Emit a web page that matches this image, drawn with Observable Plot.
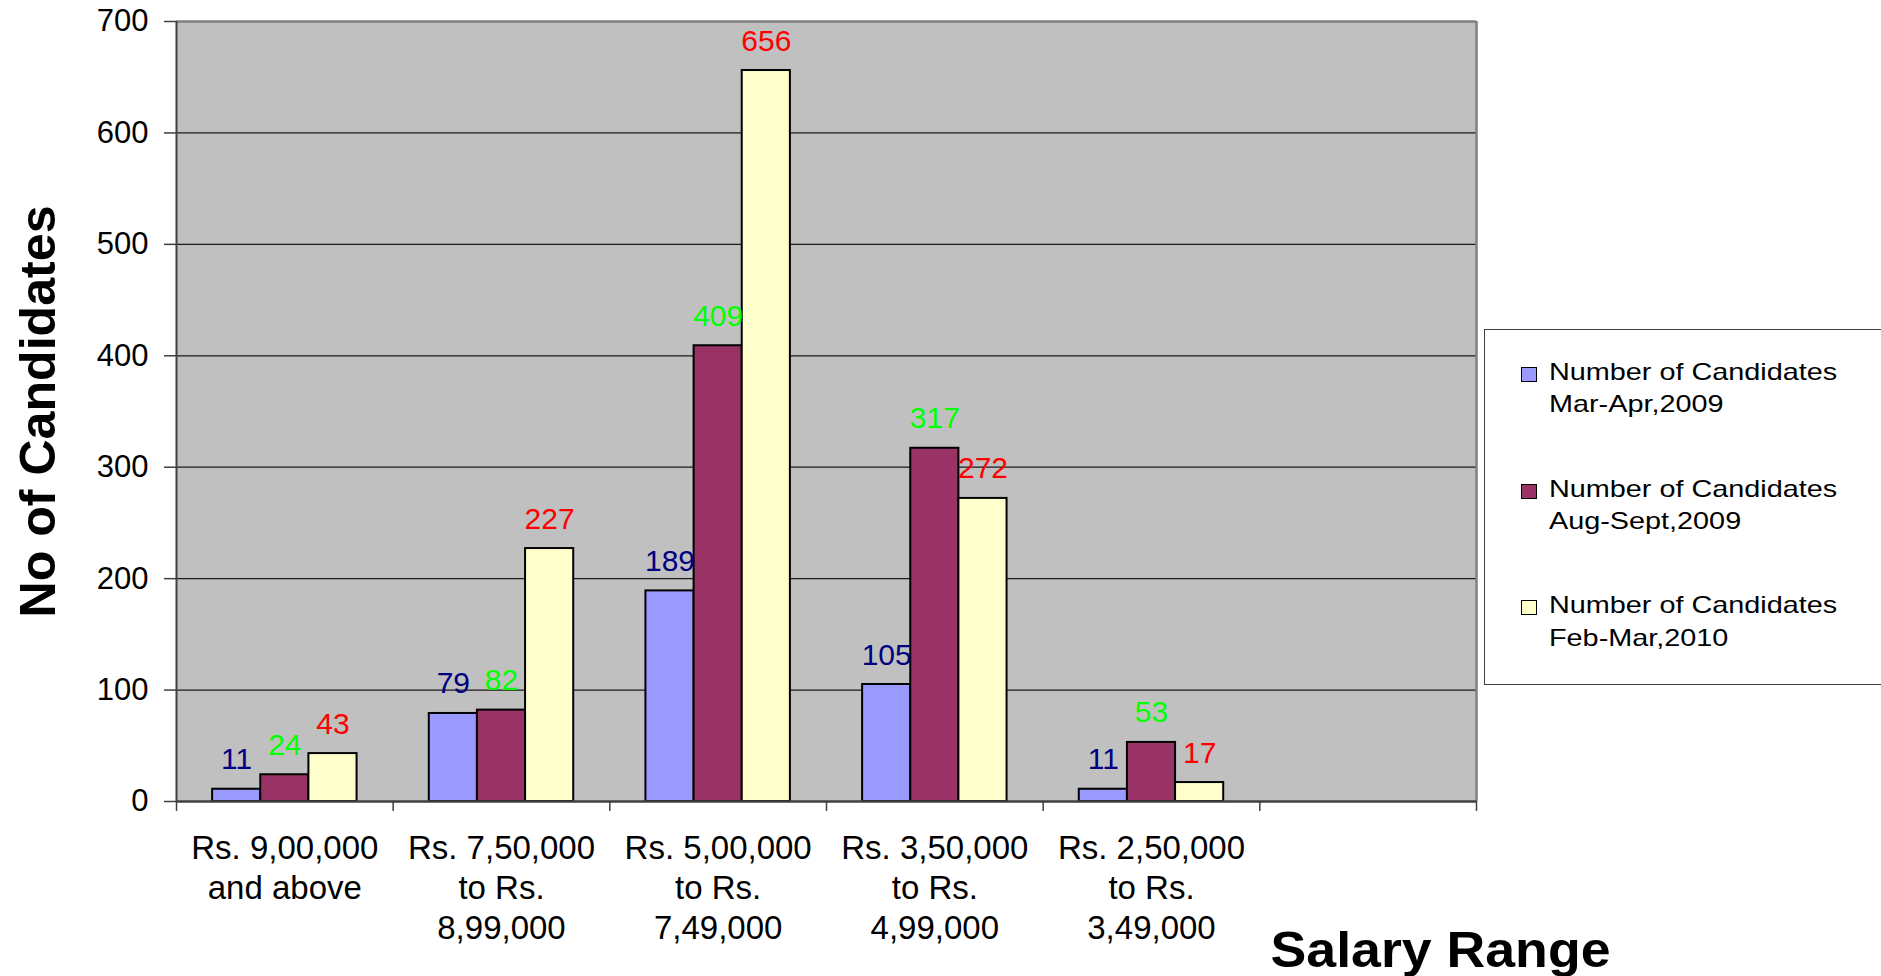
<!DOCTYPE html>
<html>
<head>
<meta charset="utf-8">
<script src="https://cdn.jsdelivr.net/npm/d3@7"></script>
<script src="https://cdn.jsdelivr.net/npm/@observablehq/plot@0.6"></script>
<style>
  html, body { margin: 0; padding: 0; background: #fff; overflow: hidden; }
  #wrap { position: relative; width: 1881px; height: 976px; font-family: "Liberation Sans", Arial, sans-serif; }
  #legend { position: absolute; left: 1484px; top: 329px; width: 420px; height: 356px;
            border: 1.5px solid #404040; box-sizing: border-box; background: #fff; }
  .item { position: absolute; left: 0; width: 400px; }
  .sw { position: absolute; left: 36px; top: 11px; width: 14px; height: 13px; border: 1.5px solid #000; }
  .lbl { position: absolute; left: 64px; top: 0; font-size: 24px; line-height: 32.4px; color: #000;
         transform: scaleX(1.2); transform-origin: 0 0; white-space: nowrap; }
</style>
</head>
<body>
<div id="wrap"><div id="chart"></div><div id="legend"></div></div>
<script>
// ---- data ----
const categories = [
  "Rs. 9,00,000\nand above",
  "Rs. 7,50,000\nto Rs.\n8,99,000",
  "Rs. 5,00,000\nto Rs.\n7,49,000",
  "Rs. 3,50,000\nto Rs.\n4,99,000",
  "Rs. 2,50,000\nto Rs.\n3,49,000"
];
const slotCount = 6; // the sixth slot on the axis is empty
const seriesNames = [
  "Number of Candidates\nMar-Apr,2009",
  "Number of Candidates\nAug-Sept,2009",
  "Number of Candidates\nFeb-Mar,2010"
];
const marApr2009 = [11, 79, 189, 105, 11];
const augSept2009 = [24, 82, 409, 317, 53];
const febMar2010 = [43, 227, 656, 272, 17];
const yTicks = [0, 100, 200, 300, 400, 500, 600, 700];
const barColors = ["#9999FF", "#993366", "#FFFFCC"];
const labelColors = ["#000080", "#00FF00", "#FF0000"];
const yTitle = "No of Candidates";
const xTitle = "Salary Range";

// ---- build table ----
const seriesValues = [marApr2009, augSept2009, febMar2010];
const rows = [];
seriesValues.forEach((vals, s) => vals.forEach((v, i) => rows.push({i, s, value: v})));
// Excel-style clustered layout: gap width 50% of one bar group
const gap = 0.5;
const groupW = 1 / (1 + gap);
const barW = groupW / seriesValues.length;
const x1 = d => d.i + (1 - groupW) / 2 + d.s * barW;
const x2 = d => x1(d) + barW;
const xc = d => x1(d) + barW / 2;

const chart = Plot.plot({
  width: 1881,
  height: 976,
  marginLeft: 176,
  marginRight: 405,
  marginTop: 21,
  marginBottom: 175,
  style: {fontFamily: "'Liberation Sans', Arial, sans-serif", background: "transparent", color: "#000"},
  x: {domain: [0, slotCount], axis: null},
  y: {domain: [0, 700], axis: null, label: null},
  marks: [
    Plot.frame({fill: "#C0C0C0", stroke: "none"}),
    Plot.ruleY(yTicks.filter(t => t > 0 && t < 700), {stroke: "#1a1a1a", strokeWidth: 1.3}),
    Plot.ruleY([700], {stroke: "#808080", strokeWidth: 2.5}),
    Plot.ruleX([slotCount], {stroke: "#808080", strokeWidth: 2.5}),
    Plot.rectY(rows, {x1, x2, y1: 0, y2: "value", fill: d => barColors[d.s], stroke: "#000", strokeWidth: 2}),
    Plot.ruleX([0], {stroke: "#404040", strokeWidth: 2}),
    Plot.ruleY([0], {stroke: "#404040", strokeWidth: 2.5}),
    Plot.axisY({ticks: yTicks, tickSize: 12, tickPadding: 16, fontSize: 31, stroke: "#404040", strokeWidth: 1.5, label: null}),
    Plot.axisX({ticks: d3.range(slotCount + 1), tickSize: 10, tickFormat: () => "", stroke: "#404040", strokeWidth: 1.5, label: null}),
    Plot.text(rows, {x: xc, y: "value", text: d => String(d.value), fill: d => labelColors[d.s],
      fontSize: 30, lineAnchor: "bottom", textAnchor: "middle", dy: -20}),
    Plot.text(categories, {x: (d, i) => i + 0.5, frameAnchor: "bottom", text: d => d, lineAnchor: "top",
      textAnchor: "middle", fontSize: 33, lineHeight: 1.21, dy: 29, fill: "#000"}),
    Plot.text([yTitle], {frameAnchor: "left", text: d => d, rotate: -90, dx: -138, fontSize: 50, fontWeight: "bold",
      lineAnchor: "middle", textAnchor: "middle", fill: "#000"}),
    Plot.text([xTitle], {frameAnchor: "bottom-right", text: d => d, textAnchor: "end", lineAnchor: "bottom",
      dx: 134, dy: 165, fontSize: 50, fontWeight: "bold", fill: "#000"})
  ]
});
document.getElementById("chart").appendChild(chart);

// match the title widths of the original rendering
d3.select(chart).selectAll("text").each(function () {
  const t = this.textContent;
  if (t === yTitle) { this.setAttribute("textLength", 412); this.setAttribute("lengthAdjust", "spacingAndGlyphs"); }
  if (t === xTitle) { this.setAttribute("textLength", 340); this.setAttribute("lengthAdjust", "spacingAndGlyphs"); }
});

// ---- legend ----
const legend = d3.select("#legend");
seriesNames.forEach((name, s) => {
  const item = legend.append("div").attr("class", "item").style("top", (26 + s * 116.7) + "px");
  item.append("div").attr("class", "sw").style("background", barColors[s]);
  item.append("div").attr("class", "lbl").html(name.split("\n").join("<br>"));
});
</script>
</body>
</html>
